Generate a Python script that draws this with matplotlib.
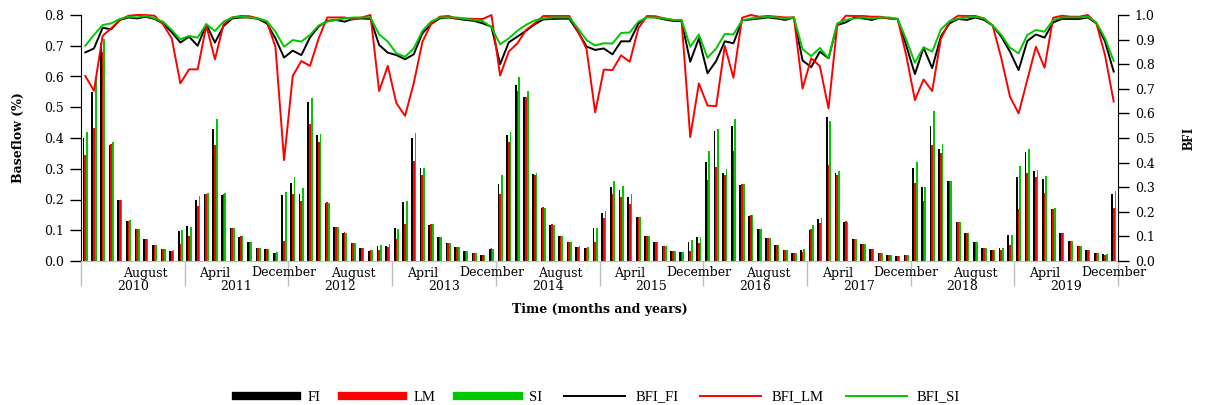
import matplotlib
matplotlib.use("Agg")
import matplotlib.pyplot as plt
from matplotlib.lines import Line2D
import numpy as np

years = [str(y) for y in range(2010, 2020)]
month_names = ["January", "February", "March", "April", "May", "June", "July",
               "August", "September", "October", "November", "December"]

# monthly baseflow (Jan 2010 - Dec 2019)
fi = [0.40, 0.55, 0.708, 0.377, 0.20, 0.13, 0.104, 0.072, 0.052, 0.039, 0.033, 0.098,
      0.114, 0.20, 0.218, 0.43, 0.215, 0.107, 0.078, 0.062, 0.042, 0.039, 0.026, 0.215,
      0.254, 0.218, 0.517, 0.41, 0.189, 0.111, 0.091, 0.059, 0.042, 0.033, 0.049, 0.049,
      0.107, 0.192, 0.40, 0.302, 0.117, 0.078, 0.059, 0.046, 0.033, 0.026, 0.02, 0.039,
      0.25, 0.41, 0.572, 0.533, 0.283, 0.172, 0.117, 0.081, 0.062, 0.046, 0.042, 0.107,
      0.156, 0.241, 0.231, 0.208, 0.143, 0.081, 0.062, 0.049, 0.033, 0.029, 0.062, 0.078,
      0.322, 0.423, 0.286, 0.439, 0.247, 0.146, 0.104, 0.075, 0.052, 0.036, 0.026, 0.036,
      0.101, 0.137, 0.468, 0.286, 0.127, 0.072, 0.055, 0.039, 0.026, 0.02, 0.016, 0.02,
      0.302, 0.241, 0.439, 0.364, 0.26, 0.127, 0.091, 0.062, 0.042, 0.036, 0.042, 0.085,
      0.273, 0.354, 0.293, 0.267, 0.169, 0.091, 0.065, 0.049, 0.036, 0.026, 0.023, 0.218]
lm = [0.345, 0.431, 0.68, 0.38, 0.198, 0.13, 0.104, 0.072, 0.052, 0.039, 0.033, 0.055,
      0.081, 0.179, 0.218, 0.377, 0.218, 0.107, 0.081, 0.062, 0.042, 0.039, 0.026, 0.065,
      0.218, 0.195, 0.446, 0.387, 0.192, 0.111, 0.094, 0.059, 0.042, 0.036, 0.036, 0.046,
      0.072, 0.12, 0.325, 0.28, 0.12, 0.078, 0.059, 0.046, 0.033, 0.026, 0.02, 0.042,
      0.218, 0.387, 0.553, 0.533, 0.28, 0.176, 0.12, 0.081, 0.062, 0.046, 0.042, 0.062,
      0.14, 0.218, 0.208, 0.185, 0.143, 0.081, 0.062, 0.049, 0.033, 0.029, 0.033, 0.058,
      0.263, 0.306, 0.28, 0.358, 0.25, 0.15, 0.104, 0.075, 0.052, 0.036, 0.026, 0.029,
      0.104, 0.124, 0.312, 0.28, 0.13, 0.072, 0.055, 0.039, 0.026, 0.02, 0.016, 0.02,
      0.254, 0.195, 0.377, 0.351, 0.26, 0.127, 0.091, 0.062, 0.042, 0.036, 0.036, 0.052,
      0.169, 0.286, 0.273, 0.221, 0.169, 0.091, 0.065, 0.049, 0.036, 0.026, 0.02, 0.172]
si = [0.42, 0.60, 0.723, 0.387, 0.20, 0.133, 0.104, 0.072, 0.052, 0.039, 0.036, 0.10,
      0.11, 0.211, 0.221, 0.462, 0.221, 0.107, 0.081, 0.062, 0.042, 0.039, 0.029, 0.224,
      0.273, 0.237, 0.53, 0.413, 0.189, 0.111, 0.091, 0.059, 0.042, 0.036, 0.052, 0.055,
      0.104, 0.195, 0.416, 0.302, 0.12, 0.078, 0.059, 0.046, 0.033, 0.026, 0.02, 0.039,
      0.28, 0.42, 0.598, 0.553, 0.286, 0.172, 0.117, 0.081, 0.062, 0.049, 0.046, 0.107,
      0.163, 0.26, 0.244, 0.218, 0.143, 0.081, 0.062, 0.049, 0.033, 0.029, 0.068, 0.078,
      0.358, 0.429, 0.299, 0.462, 0.25, 0.15, 0.104, 0.075, 0.052, 0.036, 0.026, 0.039,
      0.117, 0.14, 0.455, 0.293, 0.127, 0.072, 0.055, 0.039, 0.026, 0.02, 0.016, 0.02,
      0.322, 0.241, 0.488, 0.38, 0.26, 0.127, 0.091, 0.062, 0.042, 0.036, 0.042, 0.085,
      0.309, 0.364, 0.296, 0.276, 0.172, 0.091, 0.065, 0.049, 0.036, 0.026, 0.023, 0.228]

# baseflow index
bfi_fi = [0.848, 0.864, 0.948, 0.942, 0.98, 0.99, 0.986, 0.993, 0.984, 0.966, 0.93, 0.888,
          0.912, 0.875, 0.962, 0.888, 0.955, 0.986, 0.99, 0.99, 0.984, 0.966, 0.905, 0.827,
          0.855, 0.837, 0.909, 0.953, 0.976, 0.98, 0.973, 0.984, 0.986, 0.984, 0.878, 0.847,
          0.837, 0.82, 0.84, 0.925, 0.963, 0.986, 0.99, 0.985, 0.98, 0.976, 0.966, 0.952,
          0.80, 0.889, 0.912, 0.936, 0.962, 0.982, 0.984, 0.985, 0.985, 0.932, 0.872, 0.858,
          0.864, 0.84, 0.893, 0.893, 0.965, 0.993, 0.99, 0.982, 0.976, 0.975, 0.81, 0.905,
          0.763, 0.813, 0.893, 0.885, 0.978, 0.982, 0.986, 0.99, 0.986, 0.98, 0.99, 0.815,
          0.788, 0.851, 0.824, 0.959, 0.97, 0.99, 0.986, 0.98, 0.99, 0.986, 0.984, 0.875,
          0.76, 0.867, 0.784, 0.912, 0.966, 0.984, 0.98, 0.99, 0.98, 0.957, 0.912, 0.851,
          0.776, 0.894, 0.921, 0.908, 0.97, 0.984, 0.984, 0.984, 0.99, 0.966, 0.892, 0.77]
bfi_lm = [0.752, 0.692, 0.915, 0.946, 0.98, 0.997, 1.0, 1.0, 0.997, 0.962, 0.905, 0.722,
          0.779, 0.779, 0.957, 0.82, 0.962, 0.99, 0.996, 0.995, 0.986, 0.973, 0.871, 0.41,
          0.752, 0.813, 0.793, 0.905, 0.99, 0.99, 0.99, 0.982, 0.99, 1.0, 0.691, 0.793,
          0.641, 0.59, 0.722, 0.89, 0.963, 0.993, 0.996, 0.986, 0.986, 0.984, 0.984, 1.0,
          0.754, 0.851, 0.885, 0.939, 0.966, 0.996, 0.996, 0.996, 0.996, 0.935, 0.862, 0.604,
          0.778, 0.776, 0.836, 0.81, 0.946, 0.996, 0.995, 0.986, 0.98, 0.978, 0.504, 0.722,
          0.632, 0.629, 0.874, 0.745, 0.989, 1.0, 0.993, 0.996, 0.993, 0.99, 0.99, 0.701,
          0.824, 0.792, 0.62, 0.955, 0.997, 0.996, 0.996, 0.993, 0.993, 0.986, 0.984, 0.835,
          0.654, 0.738, 0.691, 0.903, 0.973, 0.997, 0.996, 0.996, 0.986, 0.957, 0.824, 0.668,
          0.60, 0.736, 0.871, 0.786, 0.989, 0.997, 0.993, 0.993, 1.0, 0.966, 0.837, 0.648]
bfi_si = [0.875, 0.919, 0.959, 0.966, 0.984, 0.993, 0.99, 0.997, 0.986, 0.973, 0.939, 0.901,
          0.915, 0.908, 0.963, 0.935, 0.973, 0.99, 0.993, 0.99, 0.986, 0.975, 0.932, 0.871,
          0.898, 0.892, 0.919, 0.957, 0.973, 0.98, 0.986, 0.99, 0.99, 0.99, 0.921, 0.892,
          0.844, 0.83, 0.864, 0.935, 0.973, 0.99, 0.99, 0.99, 0.984, 0.98, 0.975, 0.95,
          0.881, 0.905, 0.936, 0.96, 0.978, 0.986, 0.99, 0.99, 0.99, 0.946, 0.898, 0.876,
          0.885, 0.884, 0.927, 0.929, 0.973, 0.99, 0.99, 0.986, 0.98, 0.98, 0.871, 0.921,
          0.826, 0.864, 0.923, 0.921, 0.978, 0.986, 0.99, 0.993, 0.99, 0.986, 0.99, 0.861,
          0.833, 0.866, 0.824, 0.966, 0.98, 0.986, 0.99, 0.986, 0.99, 0.99, 0.984, 0.9,
          0.806, 0.869, 0.851, 0.941, 0.975, 0.986, 0.99, 0.993, 0.986, 0.957, 0.919, 0.867,
          0.844, 0.919, 0.939, 0.932, 0.98, 0.99, 0.99, 0.99, 0.993, 0.97, 0.905, 0.813]

BLACK, RED, GREEN = "black", "#ff0000", "#00c800"
tickfont = dict(family="DejaVu Serif", size=9)

fig = plt.figure(figsize=(12.06, 4.05), dpi=100)
ax = fig.add_axes([81/1206, 144/405, 1037/1206, 246/405])

n = len(fi)
x = np.arange(n) + 0.5
w = 0.2
ax.bar(x - 0.2, fi, width=w, color=BLACK, linewidth=0)
ax.bar(x, lm, width=w, color=RED, linewidth=0)
ax.bar(x + 0.2, si, width=w, color=GREEN, linewidth=0)

ax.set_xlim(0, n)
ax.set_ylim(0, 0.8)
ax.set_yticks(np.arange(0, 0.81, 0.1))
ax.set_yticklabels(["%.1f" % v for v in np.arange(0, 0.81, 0.1)], **tickfont)
ax.tick_params(axis="y", length=8, width=1, pad=4)

# year separators on the bottom axis
ax.set_xticks(np.arange(0, n + 1, 12))
ax.set_xticklabels([])
ax.tick_params(axis="x", length=18, width=1, color="#bebebe")
for s in ["top", "right"]:
    ax.spines[s].set_visible(False)
ax.spines["bottom"].set_color("#bebebe")

# month labels every 8 months, year labels in the middle of each year
for i in range(7, n, 8):
    ax.annotate(month_names[i % 12], xy=(i + 0.5, 0), xycoords=("data", "axes fraction"),
                xytext=(0, -12), textcoords="offset pixels", ha="center", va="center", **tickfont)
for k, yr in enumerate(years):
    ax.annotate(yr, xy=(k * 12 + 6, 0), xycoords=("data", "axes fraction"),
                xytext=(0, -25), textcoords="offset pixels", ha="center", va="center", **tickfont)

ax.annotate("Time (months and years)", xy=(0.5, 0), xycoords="axes fraction",
            xytext=(0, -48), textcoords="offset pixels", ha="center", va="center",
            family="DejaVu Serif", size=9, weight="bold")
ax.set_ylabel("Baseflow (%)", family="DejaVu Serif", size=9, weight="bold", labelpad=14)

ax2 = ax.twinx()
ax2.plot(x, bfi_fi, color=BLACK, lw=1.4, clip_on=False)
ax2.plot(x, bfi_lm, color=RED, lw=1.4, clip_on=False)
ax2.plot(x, bfi_si, color=GREEN, lw=1.4, clip_on=False)
ax2.set_ylim(0, 1.0)
ax2.set_yticks(np.arange(0, 1.01, 0.1))
ax2.set_yticklabels(["%.1f" % v for v in np.arange(0, 1.01, 0.1)], **tickfont)
ax2.tick_params(axis="y", length=8, width=1, pad=4)
for s in ["top", "left", "bottom"]:
    ax2.spines[s].set_visible(False)
ax2.set_ylabel("BFI", family="Liberation Serif", size=10, weight="bold", labelpad=20)

handles = [Line2D([], [], color=BLACK, lw=6), Line2D([], [], color=RED, lw=6),
           Line2D([], [], color=GREEN, lw=6), Line2D([], [], color=BLACK, lw=1.4),
           Line2D([], [], color=RED, lw=1.4), Line2D([], [], color=GREEN, lw=1.4)]
labels = ["FI", "LM", "SI", "BFI_FI", "BFI_LM", "BFI_SI"]
fig.legend(handles, labels, loc="center", bbox_to_anchor=(598/1206, 1 - 397/405), ncol=6,
           frameon=False, handlelength=4.2, handletextpad=0.7, columnspacing=1.5,
           prop=dict(family="Liberation Serif", size=10.5))

fig.savefig("out.png", dpi=100)
